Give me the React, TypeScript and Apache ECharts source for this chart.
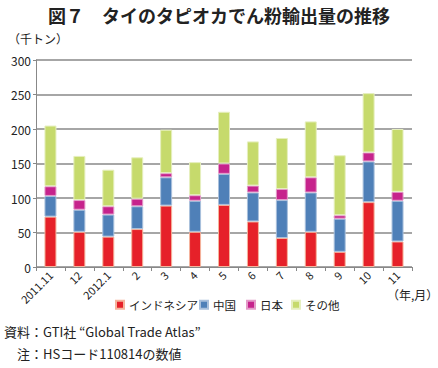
import React, { useEffect, useRef } from "react";
import * as echarts from "echarts";

const categories = ["2011.11", "12", "2012.1", "2", "3", "4", "5", "6", "7", "8", "9", "10", "11"];
const indonesia = [73, 51, 44, 55, 89, 51, 90, 66, 42, 51, 22, 94, 37];
const china = [30, 32, 32, 33, 41, 45, 45, 42, 55, 57, 48, 59, 59];
const japan = [14, 14, 12, 11, 6, 8, 15, 10, 16, 22, 5, 13, 13];
const others = [88, 64, 53, 60, 63, 48, 75, 64, 74, 81, 87, 86, 91];
const seriesNames = ["インドネシア", "中国", "日本", "その他"];
const yTicks = [0, 50, 100, 150, 200, 250, 300];

const FONT = "'Noto Sans CJK JP', 'Noto Sans', sans-serif";

export default function App() {
  const ref = useRef<HTMLDivElement>(null);
  useEffect(() => {
    if (!ref.current) return;
    const chart = echarts.init(ref.current, undefined, { renderer: "svg" });
    const colors = ["#e62129", "#4f80b8", "#c6238c", "#c6da6c"];
    const borders = ["#f5b49c", "#a9c0dc", "#e39ac8", "#e6efbe"];
    const datas = [indonesia, china, japan, others];
    const legendLefts = [115, 199, 246, 291];
    chart.setOption({
      animation: false,
      textStyle: { fontFamily: FONT },
      grid: { left: 36, right: 26, top: 60, bottom: 101 },
      legend: seriesNames.map((n, i) => ({
        left: legendLefts[i],
        top: 299,
        itemWidth: 8,
        itemHeight: 8,
        itemGap: 0,
        icon: "rect",
        padding: 0,
        textStyle: { fontSize: 11.5, color: "#222", fontFamily: FONT },
        data: [n],
      })),
      xAxis: {
        type: "category",
        data: categories,
        boundaryGap: true,
        axisLine: { lineStyle: { color: "#888", width: 1 } },
        axisTick: { show: true, alignWithLabel: false, length: 4, lineStyle: { color: "#888" } },
        axisLabel: { rotate: 45, fontSize: 11, color: "#222", margin: 6, interval: 0, fontFamily: FONT },
      },
      yAxis: {
        type: "value",
        min: 0,
        max: 300,
        interval: 50,
        axisLine: { show: true, lineStyle: { color: "#888", width: 1 } },
        axisTick: { show: true, length: 3, lineStyle: { color: "#888" } },
        axisLabel: {
          fontSize: 12,
          color: "#222",
          margin: 5,
          fontFamily: FONT,
          formatter: (v: number) => (yTicks.includes(v) ? String(v) : ""),
        },
        splitLine: {
          lineStyle: {
            color: "#888",
            width: 1.5,
          },
        },
      },
      series: seriesNames.map((name, i) => ({
        name,
        type: "bar",
        stack: "total",
        barWidth: 12,
        data: datas[i],
        itemStyle: { color: colors[i], borderColor: borders[i], borderWidth: 1 },
      })),
      color: colors,
      graphic: [
        {
          type: "text",
          left: "center",
          top: 6,
          style: {
            text: "図７　タイのタピオカでん粉輸出量の推移",
            fontSize: 18,
            fontWeight: "bold",
            fill: "#222",
            fontFamily: FONT,
          },
        },
        {
          type: "text",
          left: 8,
          top: 32,
          style: { text: "（千トン）", fontSize: 12, fill: "#222", fontFamily: FONT },
        },
        {
          type: "text",
          left: 387,
          top: 288,
          style: { text: "（年,月）", fontSize: 12, fill: "#222", fontFamily: FONT },
        },
        {
          type: "text",
          left: 4,
          top: 325,
          style: { text: "資料：GTI社 “Global Trade Atlas”", fontSize: 13, fill: "#222", fontFamily: FONT },
        },
        {
          type: "text",
          left: 17,
          top: 347,
          style: { text: "注：HSコード110814の数値", fontSize: 13, fill: "#222", fontFamily: FONT },
        },
      ],
    });
    return () => chart.dispose();
  }, []);
  return <div ref={ref} style={{ width: 438, height: 368, position: "absolute", left: 0, top: 0, background: "#fff" }} />;
}
